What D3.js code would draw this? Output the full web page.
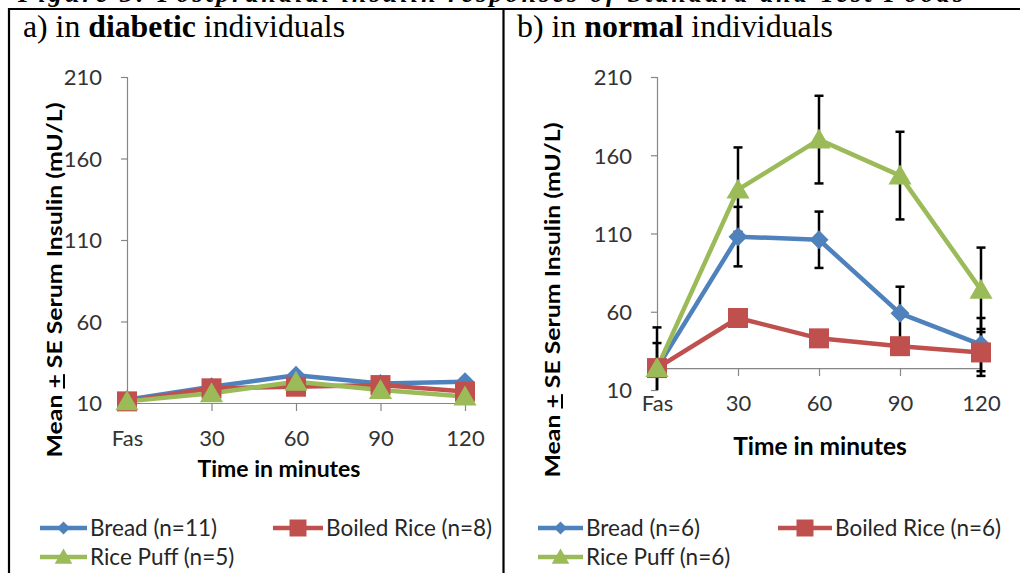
<!DOCTYPE html>
<html>
<head>
<meta charset="utf-8">
<script src="https://cdn.jsdelivr.net/npm/d3@7"></script>
<style>
  html, body { margin: 0; padding: 0; background: #fff; }
  svg { display: block; }
</style>
</head>
<body>
<svg id="chart" width="1020" height="573"></svg>
<script>
// ---------- DATA ----------
const categories = ["Fas", "30", "60", "90", "120"];
const yTicks = [10, 60, 110, 160, 210];
const seriesNames = ["Bread", "Boiled Rice", "Rice Puff"];
const diabeticN = [11, 8, 5];
const normalN = [6, 6, 6];

const diabeticBread  = [12, 20, 27, 22, 23];
const diabeticBoiled = [11, 19, 20, 21, 17];
const diabeticPuff   = [11, 16, 23, 18, 14];

const normalBread  = [24, 108, 106, 59, 39];
const normalBoiled = [24, 56, 43, 38, 34];
const normalPuff   = [24, 138, 170, 147, 74];

const normalBreadSE  = [16, 19, 18, 17, 17];
const normalBoiledSE = [4, 4, 3, 3, 15];
const normalPuffSE   = [26, 27, 28, 28, 27];

const panelTitles = [["a) in ", "diabetic", " individuals"], ["b) in ", "normal", " individuals"]];
const captionText = "Figure 3: Postprandial insulin responses of Standard and Test Foods";
const yTitle = ["Mean ", "+", " SE Serum Insulin (mU/L)"];
const xTitle = "Time in minutes";

// ---------- STYLE ----------
const colors = ["#4F81BD", "#C0504D", "#9BBB59"];
const markerTypes = ["diamond", "square", "triangle"];
const sansFont = "Lato, 'Open Sans', sans-serif";
const serifFont = "'Liberation Serif', 'DejaVu Serif', serif";

const svg = d3.select("#chart");

// caption (cut off at the top, as in the source page)
svg.append("text")
  .attr("x", 18).attr("y", 2)
  .attr("font-family", serifFont)
  .attr("font-size", 26).attr("font-weight", "bold").attr("font-style", "italic")
  .attr("textLength", 945).attr("lengthAdjust", "spacing")
  .attr("fill", "#000")
  .text(captionText);

// frame lines
svg.append("line").attr("x1", 8).attr("x2", 1020).attr("y1", 9).attr("y2", 9)
  .attr("stroke", "#000").attr("stroke-width", 2.2);
svg.append("line").attr("x1", 9).attr("x2", 9).attr("y1", 8).attr("y2", 573)
  .attr("stroke", "#000").attr("stroke-width", 2.2);
svg.append("line").attr("x1", 503.5).attr("x2", 503.5).attr("y1", 8).attr("y2", 573)
  .attr("stroke", "#000").attr("stroke-width", 2.2);

function markerPath(type, s) {
  if (type === "diamond") return `M0,${-s}L${s},0L0,${s}L${-s},0Z`;
  if (type === "square") return `M${-s},${-s}H${s}V${s}H${-s}Z`;
  return `M0,${-s * 1.05}L${s * 1.1},${s * 0.85}L${-s * 1.1},${s * 0.85}Z`;
}
const markerSize = [9.5, 10, 10.5];

const panels = [
  {
    title: panelTitles[0], titleX: 23, titleLen: 322,
    xl: 127, xr: 465, yt: 77, yb: 403, cross: 10,
    values: [diabeticBread, diabeticBoiled, diabeticPuff], se: null, n: diabeticN,
    yTitleX: 62, yTitleY: 280,
    xTitleX: 279, xTitleY: 477, xTitleSize: 23,
    legend: { x1: 40, x2: 87, bx1: 273, bx2: 323, r1: 528, r2: 557 }
  },
  {
    title: panelTitles[1], titleX: 517, titleLen: 316,
    xl: 657, xr: 981, yt: 77, yb: 390, cross: 24,
    values: [normalBread, normalBoiled, normalPuff],
    se: [normalBreadSE, normalBoiledSE, normalPuffSE], n: normalN,
    yTitleX: 560, yTitleY: 300,
    xTitleX: 820, xTitleY: 455, xTitleSize: 24.5,
    legend: { x1: 538, x2: 583, bx1: 778, bx2: 832, r1: 528, r2: 557 }
  }
];

panels.forEach((p, pi) => {
  const g = svg.append("g");

  // panel title
  const t = g.append("text").attr("x", p.titleX).attr("y", 37)
    .attr("font-family", serifFont).attr("font-size", 30.5).attr("fill", "#000")
    .attr("textLength", p.titleLen).attr("lengthAdjust", "spacingAndGlyphs");
  t.append("tspan").text(p.title[0]);
  t.append("tspan").attr("font-weight", "bold").text(p.title[1]);
  t.append("tspan").text(p.title[2]);

  const x = d3.scalePoint().domain(categories).range([p.xl, p.xr]).padding(0);
  const y = d3.scaleLinear().domain([10, 210]).range([p.yb, p.yt]);

  // y axis
  const ya = g.append("g").attr("transform", `translate(${p.xl},0)`)
    .call(d3.axisLeft(y).tickValues(yTicks).tickSize(6).tickPadding(19));
  ya.select(".domain").attr("stroke", "#868686").attr("stroke-width", 1.2);
  ya.selectAll(".tick line").attr("stroke", "#868686").attr("stroke-width", 1.2);
  ya.selectAll(".tick text").attr("font-family", sansFont).attr("font-size", 22)
    .attr("fill", "#333").attr("dy", "0.36em");

  // x axis
  const xa = g.append("g").attr("transform", `translate(0,${y(p.cross)})`)
    .call(d3.axisBottom(x).tickSize(8).tickSizeOuter(0));
  xa.select(".domain").attr("stroke", "#868686").attr("stroke-width", 1.2);
  xa.selectAll(".tick line").attr("stroke", "#868686").attr("stroke-width", 1.2);
  xa.selectAll(".tick text").attr("font-family", sansFont).attr("font-size", 22)
    .attr("fill", "#333").attr("y", 43).attr("dy", 0);

  // axis titles
  const yt = g.append("text")
    .attr("transform", `translate(${p.yTitleX},${p.yTitleY}) rotate(-90)`)
    .attr("text-anchor", "middle")
    .attr("font-family", sansFont).attr("font-size", 20).attr("font-weight", "bold")
    .attr("fill", "#000")
    .attr("textLength", 355).attr("lengthAdjust", "spacingAndGlyphs");
  yt.append("tspan").text(yTitle[0]);
  yt.append("tspan").attr("text-decoration", "underline").style("text-decoration", "underline").text(yTitle[1]);
  yt.append("tspan").text(yTitle[2]);

  g.append("text").attr("x", p.xTitleX).attr("y", p.xTitleY)
    .attr("text-anchor", "middle")
    .attr("font-family", sansFont).attr("font-size", p.xTitleSize).attr("font-weight", "bold")
    .attr("fill", "#000").text(xTitle);

  const clipId = "clip" + pi;
  svg.append("clipPath").attr("id", clipId).append("rect")
    .attr("x", p.xl - 30).attr("y", p.yt).attr("width", p.xr - p.xl + 60).attr("height", p.yb - p.yt);

  const line = d3.line().x((d, i) => x(categories[i])).y(d => y(d));

  // lines
  p.values.forEach((vals, si) => {
    g.append("path").datum(vals).attr("d", line)
      .attr("fill", "none").attr("stroke", colors[si]).attr("stroke-width", 4.5)
      .attr("stroke-linejoin", "round");
  });

  // error bars
  if (p.se) {
    const eg = g.append("g").attr("clip-path", `url(#${clipId})`);
    p.values.forEach((vals, si) => {
      vals.forEach((v, i) => {
        const cx = x(categories[i]);
        const e = p.se[si][i];
        const top = y(v + e), bot = y(v - e);
        eg.append("line").attr("x1", cx).attr("x2", cx).attr("y1", top).attr("y2", bot)
          .attr("stroke", "#000").attr("stroke-width", 2.5);
        [top, bot].forEach(yy => {
          eg.append("line").attr("x1", cx - 4.5).attr("x2", cx + 4.5).attr("y1", yy).attr("y2", yy)
            .attr("stroke", "#000").attr("stroke-width", 2.5);
        });
      });
    });
  }

  // markers
  p.values.forEach((vals, si) => {
    g.selectAll(null).data(vals).enter().append("path")
      .attr("transform", (d, i) => `translate(${x(categories[i])},${y(d)})`)
      .attr("d", markerPath(markerTypes[si], markerSize[si]))
      .attr("fill", colors[si]);
  });

  // legend
  const L = p.legend;
  const items = [
    { si: 0, x1: L.x1, x2: L.x2, y: L.r1 },
    { si: 1, x1: L.bx1, x2: L.bx2, y: L.r1 },
    { si: 2, x1: L.x1, x2: L.x2, y: L.r2 }
  ];
  items.forEach(it => {
    g.append("line").attr("x1", it.x1).attr("x2", it.x2).attr("y1", it.y).attr("y2", it.y)
      .attr("stroke", colors[it.si]).attr("stroke-width", 4.5);
    const ms = it.si === 0 ? 6.5 : it.si === 1 ? 8.5 : 8;
    g.append("path").attr("transform", `translate(${(it.x1 + it.x2) / 2},${it.y})`)
      .attr("d", markerPath(markerTypes[it.si], ms)).attr("fill", colors[it.si]);
    g.append("text").attr("x", it.x2 + 3).attr("y", it.y).attr("dy", "0.35em")
      .attr("font-family", sansFont).attr("font-size", 22.5).attr("fill", "#262626")
      .text(`${seriesNames[it.si]} (n=${p.n[it.si]})`);
  });
});
</script>
</body>
</html>
